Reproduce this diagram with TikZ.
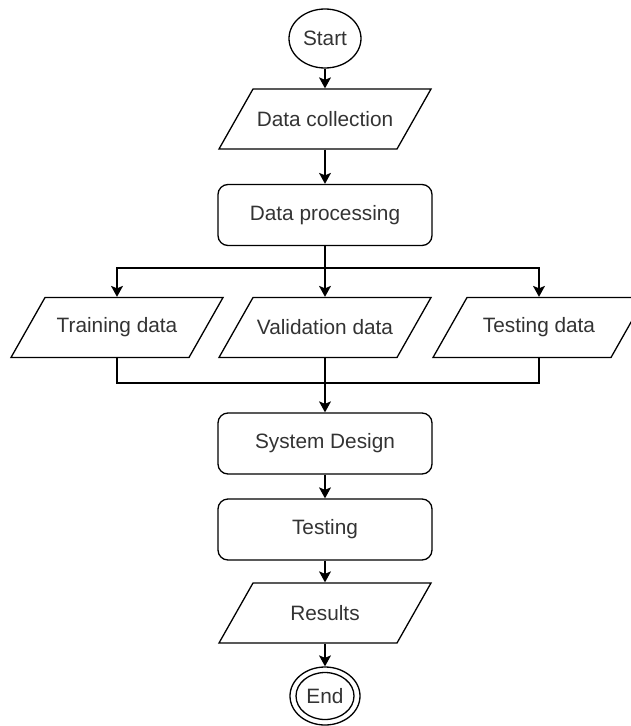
\documentclass[tikz,border=0pt]{standalone}
\usepackage{fontspec}
\setmainfont{Liberation Sans}
\usetikzlibrary{shapes.geometric,arrows.meta,calc}
\begin{document}
\begin{tikzpicture}[x=1pt,y=-1pt,
  line width=1.3pt,
  every node/.style={font=\fontsize{20.8}{24}\selectfont, text=black!80},
  lbl/.style={draw=none, inner sep=0pt, minimum width=178pt, minimum height=60pt},
  rbox/.style={draw, rounded corners=10pt, inner sep=0pt, minimum width=214pt, minimum height=61pt},
  para/.style={draw, line join=miter},
  term/.style={draw, ellipse, inner sep=0pt, minimum width=72pt, minimum height=59pt},
  arr/.style={-{Stealth[length=11pt,width=12pt,inset=2.5pt]}}
]
\useasboundingbox (0,0) rectangle (631,726);

% Start
\node[term] (start) at (325,38.5) {Start};

% Data collection
\node[lbl] (dc) at (325,119) {Data collection};
\draw[para] ($(dc)+(-106,30)$) -- ++(178,0) -- ++(34,-60) -- ++(-178,0) -- cycle;

% Data processing
\node[rbox] (dp) at (325,215) {Data processing};

% Three data sets
\node[lbl] (td) at (117,327.5) {Training data};
\draw[para] ($(td)+(-106,30)$) -- ++(178,0) -- ++(34,-60) -- ++(-178,0) -- cycle;
\node[lbl] (vd) at (325,327.5) {Validation data};
\draw[para] ($(vd)+(-106,30)$) -- ++(178,0) -- ++(34,-60) -- ++(-178,0) -- cycle;
\node[lbl] (ts) at (539,327.5) {Testing data};
\draw[para] ($(ts)+(-106,30)$) -- ++(178,0) -- ++(34,-60) -- ++(-178,0) -- cycle;

% System design, testing
\node[rbox] (sd) at (325,443.5) {System Design};
\node[rbox] (te) at (325,529.5) {Testing};

% Results
\node[lbl] (rs) at (325,613) {Results};
\draw[para] ($(rs)+(-106,30)$) -- ++(178,0) -- ++(34,-60) -- ++(-178,0) -- cycle;

% End
\node[term, minimum width=70pt, minimum height=58pt] (end) at (325,696) {};
\node[draw, ellipse, inner sep=0pt, minimum width=58pt, minimum height=47pt] (endin) at (end) {End};

% Connectors
\coordinate (split) at (325,268);
\coordinate (join) at (325,383);
\draw[arr] (start) -- (dc.north);
\draw[arr] (dc.south) -- (dp.north);
\draw[arr] (dp.south) -- (vd.north);
\draw[arr] (split) -| (td.north);
\draw[arr] (split) -| (ts.north);
\draw (td.south) |- (join);
\draw (ts.south) |- (join);
\draw[arr] (vd.south) -- (sd.north);
\draw[arr] (sd.south) -- (te.north);
\draw[arr] (te.south) -- (rs.north);
\draw[arr] (rs.south) -- (end.north);
\end{tikzpicture}
\end{document}
